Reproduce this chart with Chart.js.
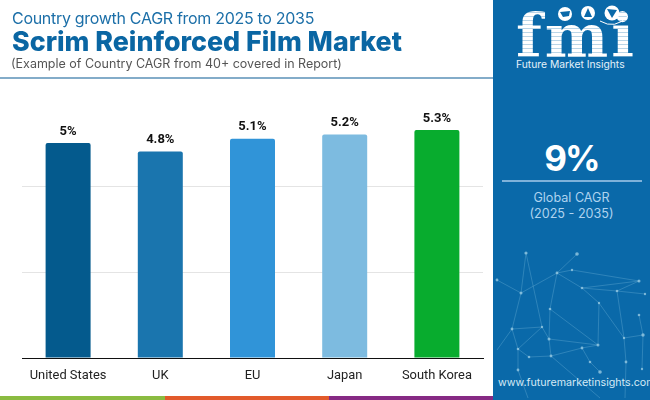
<!DOCTYPE html>
<html>
<head>
<meta charset="utf-8">
<script src="https://cdn.jsdelivr.net/npm/chart.js@4"></script>
<style>
  html, body { margin: 0; padding: 0; background: #fff; }
  #page { position: relative; width: 650px; height: 400px; overflow: hidden; font-family: Inter, sans-serif; }
  #page div { position: absolute; white-space: nowrap; }
  canvas { position: absolute; left: 0; top: 0; }
  #head1 { left: 12px; top: 7px; font-size: 16px; letter-spacing: -0.3px; color: #1c6fa8; line-height: 22px; }
  #head2 { left: 12px; top: 26px; font-size: 26.8px; font-weight: 800; color: #0a66a3; line-height: 30px; }
  #head3 { left: 11px; top: 55px; font-size: 12.5px; color: #555; line-height: 18px; }
  #rule { left: 0; top: 77px; width: 493px; height: 2px; background: #83acc9; }
  #panel { left: 493px; top: 0; width: 157px; height: 400px; background: #0a69a9; }
  #net, #icons { position: absolute; left: 0; top: 0; }
  #logo { left: 516px; top: 1px; font-family: "DejaVu Serif", serif; font-weight: 700; font-size: 60px; line-height: 70px; letter-spacing: 3px;
    color: transparent; background: repeating-linear-gradient(#fff 0 3px, rgba(255,255,255,.72) 3px 4px); -webkit-background-clip: text; background-clip: text; }
  #brand { left: 516px; top: 57px; font-size: 10.3px; line-height: 14px; color: #e4f1fa; }
  #big { left: 493px; width: 157px; top: 134px; text-align: center; font-size: 35px; letter-spacing: -2px; font-weight: 700; line-height: 48px; color: #fff; }
  #panelRule { left: 502px; top: 180px; width: 140px; height: 2px; background: #7fb2da; }
  #cagr1, #cagr2 { left: 493px; width: 157px; text-align: center; font-size: 12.6px; line-height: 16px; color: #aed3ef; }
  #cagr1 { top: 190px; }
  #cagr2 { top: 206px; }
  #url { left: 498px; top: 376px; font-size: 10.7px; line-height: 14px; color: #d5e9f6; }
  .strip { top: 396px; height: 4px; }
</style>
</head>
<body>
<div id="page">
  <canvas id="BarChart" width="650" height="400"></canvas>
  <div id="head1">Country growth CAGR from 2025 to 2035</div>
  <div id="head2">Scrim Reinforced Film Market</div>
  <div id="head3">(Example of Country CAGR from 40+ covered in Report)</div>
  <div id="rule"></div>
  <div class="strip" style="left:0;width:165px;background:#8abb41"></div>
  <div class="strip" style="left:165px;width:164px;background:#e25a2b"></div>
  <div class="strip" style="left:329px;width:164px;background:#862a84"></div>
  <div id="panel"></div>
  <svg id="net" width="650" height="400" fill="none" stroke="#6fb4d8" stroke-width="0.6" stroke-opacity="0.6">
    <path d="M526 253L521 293L512 329L518 349L518 370L528 398M526 253L542 327L549 339L551 356M577 254L557 273L521 293M557 273L572 270L639 281L582 288L557 273M582 288L617 291L645 294M557 273L550 309L549 339M550 309L598 345L599 303L582 288M599 303L624 338L626 362L625 398M617 291L624 338L643 335M639 281L617 291M512 329L542 327L518 349M549 339L598 345L582 348L551 356L529 357L518 349M582 348L590 362L600 372M551 356L600 398M497 280L521 293M497 350L512 329M639 315L643 335L642 369"/>
    <g fill="#9fcfe6" stroke="none" fill-opacity="0.75">
      <circle cx="526" cy="253" r="1.6"/><circle cx="577" cy="254" r="1.8"/><circle cx="557" cy="273" r="1.4"/><circle cx="572" cy="270" r="1.2"/>
      <circle cx="639" cy="281" r="1.5"/><circle cx="521" cy="293" r="1.5"/><circle cx="582" cy="288" r="1.3"/><circle cx="617" cy="291" r="1.3"/>
      <circle cx="645" cy="294" r="1.2"/><circle cx="550" cy="309" r="1.3"/><circle cx="599" cy="303" r="1.2"/><circle cx="639" cy="315" r="1.3"/>
      <circle cx="512" cy="329" r="1.4"/><circle cx="542" cy="327" r="1.2"/><circle cx="549" cy="339" r="1.5"/><circle cx="598" cy="345" r="1.5"/>
      <circle cx="643" cy="335" r="1.7"/><circle cx="624" cy="338" r="1.2"/><circle cx="518" cy="349" r="1.3"/><circle cx="529" cy="357" r="1.3"/>
      <circle cx="551" cy="356" r="1.4"/><circle cx="582" cy="348" r="1.4"/><circle cx="590" cy="362" r="1.3"/><circle cx="626" cy="362" r="1.4"/>
      <circle cx="518" cy="370" r="1.4"/><circle cx="600" cy="372" r="1.8"/><circle cx="642" cy="369" r="1.2"/><circle cx="497" cy="280" r="1.4"/>
    </g>
  </svg>
  <div id="logo">fmi</div>
  <svg id="icons" width="650" height="100" fill="none">
    <g fill="#fff">
      <circle cx="565" cy="14" r="7"/><circle cx="588" cy="13" r="7"/><circle cx="612" cy="13" r="7.5"/>
    </g>
    <g fill="#0a69a9">
      <path d="M560 12L570 11L569 16L563 17Z"/><path d="M588 8L592 17L584 17Z"/><path d="M607 9L617 10L612 18Z"/>
    </g>
    <path d="M600 21Q615 30 628 16" stroke="#fff" stroke-width="1"/>
  </svg>
  <div id="brand">Future Market Insights</div>
  <div id="big">9%</div>
  <div id="panelRule"></div>
  <div id="cagr1">Global CAGR</div>
  <div id="cagr2">(2025 - 2035)</div>
  <div id="url">www.futuremarketinsights.com</div>
</div>
<script>
const countries = ["United States", "UK", "EU", "Japan", "South Korea"];
const cagrValues = [5, 4.8, 5.1, 5.2, 5.3];
const barColors = ["#045a8d", "#1a75ae", "#3094d8", "#7dbbe0", "#08ac2e"];
const axisMax = 6;

// values on top of the bars
const barValueLabels = {
  id: "barValueLabels",
  afterDatasetsDraw(chart) {
    const ctx = chart.ctx;
    ctx.save();
    ctx.font = "bold 13px Roboto";
    ctx.fillStyle = "#111";
    ctx.textAlign = "center";
    ctx.textBaseline = "bottom";
    chart.getDatasetMeta(0).data.forEach((bar, i) => {
      ctx.fillText(cagrValues[i] + "%", bar.x, bar.y - 5);
    });
    ctx.restore();
  }
};

new Chart(document.getElementById("BarChart").getContext("2d"), {
  type: "bar",
  data: {
    labels: countries,
    datasets: [{
      data: cagrValues,
      backgroundColor: barColors,
      borderRadius: { topLeft: 2, topRight: 2 },
      borderSkipped: "bottom",
      barPercentage: 0.488,
      categoryPercentage: 1
    }]
  },
  options: {
    responsive: false,
    animation: false,
    layout: { padding: { left: 22, right: 167, top: 100, bottom: 0 } },
    plugins: { legend: { display: false }, tooltip: { enabled: false } },
    scales: {
      x: {
        afterFit(scale) { scale.height = 42; },
        grid: { display: false },
        border: { color: "#111", width: 1 },
        ticks: { color: "#222", font: { family: "Roboto", size: 12.9 }, padding: 2, maxRotation: 0 }
      },
      y: {
        min: 0,
        max: axisMax,
        afterFit(scale) { scale.width = 0; },
        border: { display: false },
        ticks: { display: false, stepSize: 2 },
        grid: {
          drawTicks: false,
          // top line is not drawn in the original
          color: (c) => (c.tick.value === axisMax ? "transparent" : "#e4e4e4")
        }
      }
    }
  },
  plugins: [barValueLabels]
});
</script>
</body>
</html>
